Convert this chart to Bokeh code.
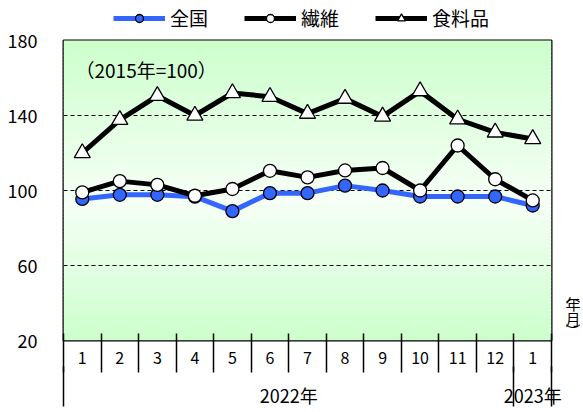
import numpy as np
from bokeh.plotting import figure
from bokeh.layouts import column, row
from bokeh.models import (Range1d, FixedTicker, LinearAxis, Legend, LegendItem,
                          Label, ColumnDataSource)
from bokeh.core.properties import value
from bokeh.embed import file_html
from bokeh.resources import INLINE

# ---------------- data ----------------
months = ["1", "2", "3", "4", "5", "6", "7", "8", "9", "10", "11", "12", "1"]
years = ["2022年", "2023年"]
year_counts = [12, 1]
national = [95.5, 97.7, 97.7, 96.7, 89.0, 98.6, 98.6, 102.6, 100.0, 96.8, 96.8, 96.8, 92.0]
textile = [99.0, 105.0, 103.0, 97.2, 100.8, 110.5, 107.0, 110.7, 112.0, 100.0, 124.0, 106.0, 94.7]
food = [120.0, 137.7, 150.5, 140.0, 152.0, 150.0, 141.0, 149.0, 139.5, 153.0, 138.0, 131.0, 127.5]
series_names = ["全国", "繊維", "食料品"]
y_ticks = [20, 60, 100, 140, 180]
grid_ticks = [60, 100, 140]
base_note = "（2015年=100）"
unit_chars = ["︵", "年", "月", "︶"]

FONT = "Noto Sans CJK JP"
BLUE = "#3366ff"

n = len(months)
x = list(range(1, n + 1))
X0, X1 = 0.5, n + 0.5
Y0, Y1 = 20, 180

LEG_H = 32                     # legend strip height
UNIT_W = 15                    # strip for vertical unit label
W_MAIN, H_MAIN = 565, 378
LEFT, RIGHT, TOP, BOTTOM = 63, 14, 8, 70
FRAME_W, FRAME_H = W_MAIN - LEFT - RIGHT, H_MAIN - TOP - BOTTOM
px_x = FRAME_W / (X1 - X0)
px_y = FRAME_H / (Y1 - Y0)

src = ColumnDataSource(dict(x=x, national=national, textile=textile, food=food))


def add_series(fig):
    l1 = fig.line("x", "national", source=src, line_color=BLUE, line_width=5, line_join="round")
    s1 = fig.scatter("x", "national", source=src, marker="circle", size=13,
                     fill_color=BLUE, line_color="black", line_width=1.3)
    l2 = fig.line("x", "textile", source=src, line_color="black", line_width=5, line_join="round")
    s2 = fig.scatter("x", "textile", source=src, marker="circle", size=13,
                     fill_color="white", line_color="black", line_width=1.3)
    l3 = fig.line("x", "food", source=src, line_color="black", line_width=5, line_join="round")
    s3 = fig.scatter("x", "food", source=src, marker="triangle", size=16,
                     fill_color="white", line_color="black", line_width=1.3)
    return [[l1, s1], [l2, s2], [l3, s3]]


# ---------------- main chart ----------------
p = figure(width=W_MAIN, height=H_MAIN, x_range=Range1d(X0, X1), y_range=Range1d(Y0, Y1),
           output_backend="svg", toolbar_location=None, x_axis_location=None,
           min_border_left=LEFT, min_border_right=RIGHT, min_border_top=TOP,
           min_border_bottom=BOTTOM)
p.background_fill_color = "white"
p.border_fill_color = "white"
p.outline_line_color = "black"
p.outline_line_width = 2
p.xgrid.visible = False

# gradient background (green - pale - green), drawn below the grid
ny = 80
edges = np.linspace(Y0, Y1, ny + 1)
green = np.array([204, 255, 204])
pale = np.array([246, 255, 246])
mid_val = 95.0
cols = []
for i in range(ny):
    m = (edges[i] + edges[i + 1]) / 2
    t = (m - mid_val) / (Y1 - mid_val) if m > mid_val else (mid_val - m) / (mid_val - Y0)
    t = min(1.0, max(0.0, t))
    c = pale * (1 - t) + green * t
    cols.append("#%02x%02x%02x" % tuple(int(round(v)) for v in c))
bg = ColumnDataSource(dict(left=[X0] * ny, right=[X1] * ny,
                           bottom=[float(v) for v in edges[:-1]],
                           top=[float(v) + 0.3 for v in edges[1:]], color=cols))
p.quad(left="left", right="right", bottom="bottom", top="top", fill_color="color",
       line_color=None, source=bg, level="image")

# y axis
yax = p.yaxis[0]
yax.ticker = FixedTicker(ticks=y_ticks)
yax.major_tick_in = 0
yax.major_tick_out = 0
yax.minor_tick_line_color = None
yax.axis_line_color = None
yax.major_label_text_font = FONT
yax.major_label_text_font_size = "18px"
yax.major_label_text_color = "black"
yax.major_label_standoff = 26

p.ygrid.ticker = FixedTicker(ticks=grid_ticks)
p.ygrid.grid_line_color = "black"
p.ygrid.grid_line_dash = "4 3"
p.ygrid.grid_line_width = 1

add_series(p)

# month axis (cell borders as minor ticks)
boundaries = [i + 0.5 for i in range(0, n + 1)]
month_axis = LinearAxis(ticker=FixedTicker(ticks=x, minor_ticks=boundaries),
                        major_label_overrides={xi: m for xi, m in zip(x, months)},
                        major_tick_in=0, major_tick_out=0,
                        minor_tick_in=7, minor_tick_out=32,
                        minor_tick_line_color="black", minor_tick_line_width=1.5,
                        axis_line_color=None,
                        major_label_text_font=FONT, major_label_text_font_size="16px",
                        major_label_text_color="black",
                        major_label_standoff=-21)
p.add_layout(month_axis, "below")

# year axis
year_centers, year_bounds = [], [X0]
start = X0
for cnt in year_counts:
    year_centers.append(start + cnt / 2)
    start += cnt
    year_bounds.append(start)
year_axis = LinearAxis(ticker=FixedTicker(ticks=year_centers, minor_ticks=year_bounds),
                       major_label_overrides={c: yl for c, yl in zip(year_centers, years)},
                       major_tick_in=0, major_tick_out=0,
                       minor_tick_in=0, minor_tick_out=40,
                       minor_tick_line_color="black", minor_tick_line_width=1.5,
                       axis_line_color=None,
                       major_label_text_font=FONT, major_label_text_font_size="18px",
                       major_label_text_color="black",
                       major_label_standoff=-25)
p.add_layout(year_axis, "below")

# note inside plot
p.add_layout(Label(x=X0 + 12 / px_x, y=Y1 - 29 / px_y, text=base_note,
                   text_font=FONT, text_font_size="19px", text_baseline="middle",
                   text_align="left", text_color="black"))

# ---------------- legend strip ----------------
W_ALL = W_MAIN + UNIT_W
lg = figure(width=W_ALL, height=LEG_H, x_range=Range1d(0, W_ALL), y_range=Range1d(0, LEG_H),
            output_backend="svg", toolbar_location=None, x_axis_location=None,
            y_axis_location=None, min_border_left=0, min_border_right=0,
            min_border_top=0, min_border_bottom=0)
lg.outline_line_color = None
lg.xgrid.visible = False
lg.ygrid.visible = False
lg.background_fill_color = "white"
lg.border_fill_color = "white"
leg_rends = add_series(lg)   # data lies outside this strip's range; only legend shows
legend = Legend(items=[LegendItem(label=nm, renderers=r) for nm, r in zip(series_names, leg_rends)],
                orientation="horizontal", location=(113, 1),
                margin=0, padding=0, spacing=36, glyph_width=52, glyph_height=20,
                label_height=20, label_standoff=5, label_text_font=FONT,
                label_text_font_size="19px", label_text_color="black",
                border_line_color=None, background_fill_alpha=0)
lg.add_layout(legend)

# ---------------- vertical unit label strip ----------------
uf = figure(width=UNIT_W, height=H_MAIN, x_range=Range1d(0, UNIT_W),
            y_range=Range1d(H_MAIN, 0), output_backend="svg", toolbar_location=None,
            x_axis_location=None, y_axis_location=None, min_border_left=0,
            min_border_right=0, min_border_top=0, min_border_bottom=0)
uf.outline_line_color = None
uf.xgrid.visible = False
uf.ygrid.visible = False
uf.background_fill_color = "white"
uf.border_fill_color = "white"
unit_rows = [352 - LEG_H, 364 - LEG_H, 382 - LEG_H, 397 - LEG_H]
uf.text(x=[UNIT_W / 2] * len(unit_chars), y=unit_rows, text=unit_chars,
        text_font=value(FONT), text_font_size=value("15px"), text_color="black",
        text_align="center", text_baseline="middle")

layout = column(lg, row(p, uf, spacing=0), spacing=0)
open("out.html", "w").write(file_html(layout, INLINE))
